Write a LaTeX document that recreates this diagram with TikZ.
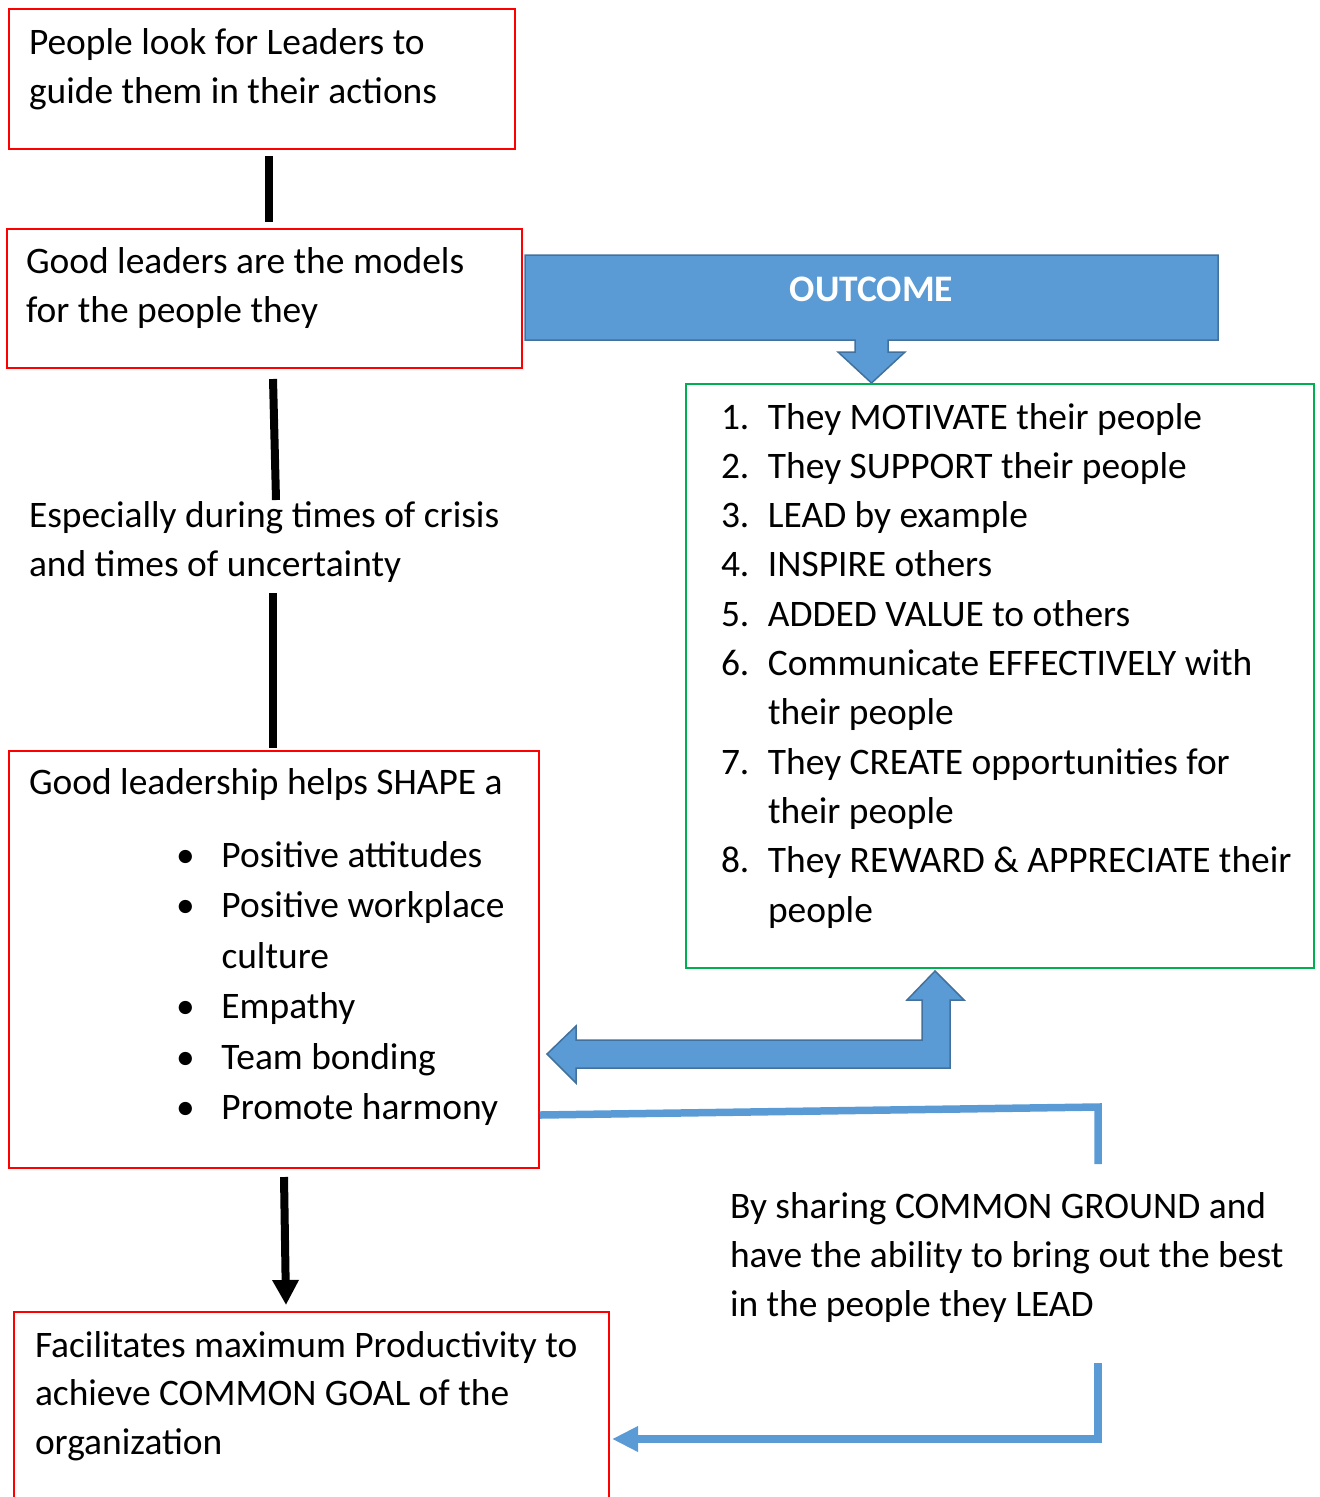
\documentclass[tikz,border=0pt]{standalone}
\usepackage{fontspec}
\setmainfont{Carlito}
\usetikzlibrary{arrows.meta, calc, backgrounds}
\definecolor{cred}{HTML}{FF0000}
\definecolor{cgreen}{HTML}{00B050}
\definecolor{cblue}{HTML}{5B9BD5}
\definecolor{cbluedark}{HTML}{41719C}
\newcommand{\bodyfont}[1]{\fontsize{21.3pt}{#1}\selectfont}
\newcommand{\numitem}[2]{\makebox[9.4mm][l]{#1}\mbox{#2}}
\newcommand{\bulitem}[1]{\hspace*{29.4mm}\makebox[9.1mm][l]{\textbullet}\mbox{#1}}
\tikzset{
  every picture/.style={font=\bodyfont{9.8mm}, line width=0.4mm},
  every node/.append style={execute at begin node={\spaceskip=0pt\xspaceskip=0pt\relax}},
  box/.style={draw=#1, line width=0.4mm, anchor=north west, align=left, inner ysep=0pt},
  box/.default=cred,
  plain/.style={anchor=base west, align=left, inner sep=0pt},
  link/.style={draw=black, line width=1.6mm},
  flow/.style={draw=cblue, line width=1.5mm},
  block/.style={fill=cblue, draw=cbluedark, line width=0.3mm, line join=miter},
}

\begin{document}
\begin{tikzpicture}[x=0.2mm, y=-0.2mm]
  \useasboundingbox (0,0) rectangle (1319,1497);
  % left column
  \node[box, inner xsep=4mm, text width=93.2mm, text height=9mm, text depth=19mm] (look) at (8,8)
    {People look for Leaders to\\guide them in their actions};
  \node[box, inner xsep=3.8mm, text width=95.4mm, text height=8.8mm, text depth=19mm] (model) at (6,228)
    {Good leaders are the models\\for the people they};
  \node[plain, text width=130mm] (crisis) at (28,527)
    {Especially during times of crisis\\and times of uncertainty};
  \node[box, inner xsep=4mm, text width=98mm, text height=8.6mm, text depth=74.8mm,
        font=\bodyfont{10.1mm}] (shape) at (8,750)
    {Good leadership helps SHAPE a\\[4.5mm]
     \bulitem{Positive attitudes}\\
     \bulitem{Positive workplace}\\
     \hspace*{38.5mm}culture\\
     \bulitem{Empathy}\\
     \bulitem{Team bonding}\\
     \bulitem{Promote harmony}};
  \node[box, inner xsep=4.2mm, text width=110.6mm, text height=9mm, text depth=30mm,
        font=\bodyfont{9.7mm}] (goal) at (13,1311)
    {Facilitates maximum Productivity to\\achieve COMMON GOAL of the\\organization};
  % right column
  \node[anchor=north west, inner sep=0pt, minimum width=138.2mm, text height=9mm, text depth=7.6mm,
        text=white, font=\bodyfont{9.8mm}\bfseries] (outcome) at (525,255) {OUTCOME};
  \node[box=cgreen, inner xsep=7mm, text width=111.6mm, text height=9mm, text depth=107.8mm,
        font=\bodyfont{9.86mm}] (list) at (685,383)
    {\numitem{1.}{They MOTIVATE their people}\\
     \numitem{2.}{They SUPPORT their people}\\
     \numitem{3.}{LEAD by example}\\
     \numitem{4.}{INSPIRE others}\\
     \numitem{5.}{ADDED VALUE to others}\\
     \numitem{6.}{Communicate EFFECTIVELY with}\\
     \hspace*{9.4mm}their people\\
     \numitem{7.}{They CREATE opportunities for}\\
     \hspace*{9.4mm}their people\\
     \numitem{8.}{They REWARD \& APPRECIATE their}\\
     \hspace*{9.4mm}people};
  \node[plain, text width=130mm] (sharing) at (729,1218)
    {By sharing COMMON GROUND and\\have the ability to bring out the best\\in the people they LEAD};
  % connectors
  \draw[link] ($(look.south)+(7,6)$) -- ($(look.south |- model.north)+(7,-6)$);
  \draw[link] ($(model.south)+(8.5,10)$) -- ($(crisis.north west)+(248,0)$);
  \draw[link] ($(crisis.south -| shape.north)+(-1,10)$) -- ($(shape.north)+(-1,-2)$);
  \draw[link, -{Triangle[length=5mm, width=5mm]}] ($(shape.south)+(10,8)$) -- ($(goal.north)+(-25.5,-6)$);
  \begin{scope}[on background layer]
    \draw[block] (outcome.north west) -- (outcome.north east) -- (outcome.south east)
      -- ($(outcome.south)+(16.5,0)$) -- ++(0,12) -- ++(17,0) -- (outcome.south |- list.north)
      -- ($(outcome.south)+(-33.5,12)$) -- ++(17,0) -- ++(0,-12) -- (outcome.south west) -- cycle;
  \end{scope}
  \draw[block] ($(shape.east)+(7,94.5)$) -- ++(29,-28) -- ++(0,14) -- ++(346,0) -- ++(0,-40) -- ++(-15,0)
    -- ++(28,-29) -- ++(29,29) -- ++(-14,0) -- ++(0,68) -- ++(-374,0) -- ++(0,15) -- cycle;
  \draw[flow] ($(shape.east)+(0,155.5)$) -- ($(sharing.north west)+(369,-84)$) -- ++(0,57);
  \draw[flow, -{Triangle[length=5.2mm, width=4.8mm]}] ($(sharing.south west)+(369,40)$) |- ($(goal.east)+(2,29.5)$);
\end{tikzpicture}
\end{document}
